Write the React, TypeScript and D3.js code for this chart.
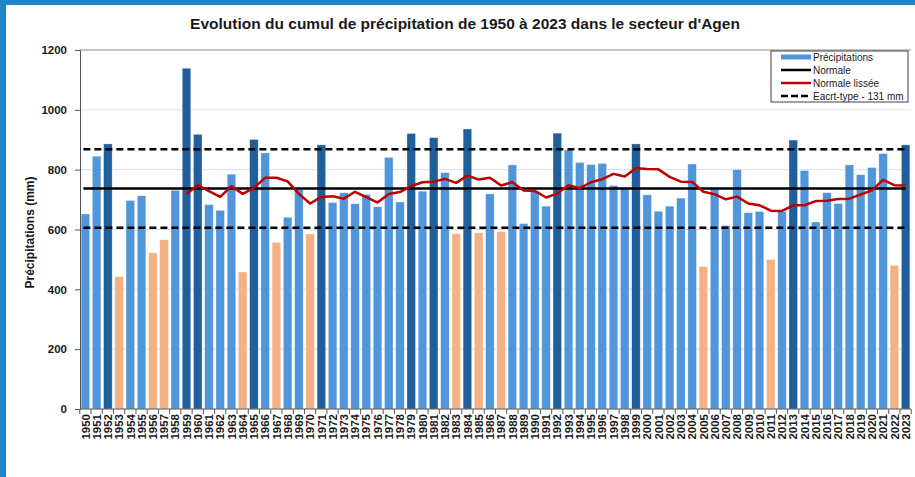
import React, { useRef, useEffect } from 'react';
import * as d3 from 'd3';

const years: number[] = d3.range(1950, 2024);

const precipitations: number[] = [
    652, 845, 886, 443, 697, 713, 522, 566, 731, 1139,
    918, 683, 664, 785, 458, 901, 856, 557, 641, 733,
    585, 883, 690, 723, 686, 717, 676, 841, 692, 921,
    728, 907, 790, 586, 936, 589, 719, 593, 816, 620,
    728, 678, 922, 866, 824, 817, 821, 747, 735, 886,
    716, 661, 678, 705, 819, 476, 736, 613, 800, 656,
    660, 500, 660, 899, 797, 625, 723, 687, 816, 783,
    807, 854, 480, 883
];

// normale lissée, de 1959 à 2023
const smoothStart = 1959;
const smoothed: number[] = [
    719, 748, 728, 709, 745, 719, 739, 773, 773, 761,
    719, 687, 709, 711, 703, 726, 708, 690, 719, 725,
    745, 758, 760, 769, 756, 780, 767, 773, 747, 758,
    730, 729, 707, 720, 748, 738, 758, 768, 786, 777,
    805, 802, 801, 776, 760, 759, 726, 718, 701, 710,
    687, 681, 663, 662, 681, 681, 695, 696, 702, 703,
    717, 731, 766, 748, 747
];

const normale = 737;
const ecartType = 131;
const yTicks: number[] = [0, 200, 400, 600, 800, 1000, 1200];

const legendItems: string[] = ['Précipitations', 'Normale', 'Normale lissée', 'Eacrt-type - 131 mm'];

const WIDTH = 915;
const HEIGHT = 477;
const FONT = "'Liberation Sans', Arial, sans-serif";

function PrecipChart() {
    const ref = useRef(null);

    useEffect(() => {
        if (!ref.current) return;
        const svg: any = d3.select(ref.current);
        svg.selectAll('*').remove();

        const left = 80, right = 911, top = 50, bottom = 409;

        const x = d3.scaleBand<number>()
            .domain(years)
            .range([left, right])
            .paddingInner(0.24)
            .paddingOuter(0.1);

        const y = d3.scaleLinear().domain([0, 1200]).range([bottom, top]);
        const cx = (yr: number) => (x(yr) as number) + x.bandwidth() / 2;

        // cadre bleu
        svg.append('rect').attr('x', 0).attr('y', 0).attr('width', WIDTH).attr('height', HEIGHT).attr('fill', '#fff');
        svg.append('rect').attr('x', 0).attr('y', 0).attr('width', 6).attr('height', HEIGHT).attr('fill', '#1f87c9');
        svg.append('rect').attr('x', 0).attr('y', 0).attr('width', WIDTH).attr('height', 5).attr('fill', '#1f87c9');

        svg.append('text')
            .attr('x', 465).attr('y', 29)
            .attr('text-anchor', 'middle')
            .attr('font-family', FONT)
            .attr('font-weight', 'bold')
            .attr('font-size', 15.5)
            .attr('fill', '#1a1a1a')
            .text("Evolution du cumul de précipitation de 1950 à 2023 dans le secteur d'Agen");

        // grille
        svg.append('g').selectAll('line')
            .data(yTicks.filter(t => t > 0 && t < 1200))
            .join('line')
            .attr('x1', left).attr('x2', right)
            .attr('y1', (d: number) => y(d)).attr('y2', (d: number) => y(d))
            .attr('stroke', '#dcdcec').attr('stroke-width', 1);

        svg.append('line')
            .attr('x1', left).attr('x2', right)
            .attr('y1', top).attr('y2', top)
            .attr('stroke', '#8c8c8c').attr('stroke-width', 1);

        // barres
        const color = (v: number) => v > normale + ecartType ? '#215f9c'
            : v < normale - ecartType ? '#f4b183' : '#5196da';

        svg.append('g').selectAll('rect')
            .data(years.map((yr, i) => ({ yr, v: precipitations[i] })))
            .join('rect')
            .attr('x', (d: any) => x(d.yr))
            .attr('y', (d: any) => y(d.v))
            .attr('width', x.bandwidth())
            .attr('height', (d: any) => bottom - y(d.v))
            .attr('fill', (d: any) => color(d.v))
            .attr('stroke', 'rgba(255,255,255,0.5)')
            .attr('stroke-width', 0.6);

        // normale et écart-type
        const x0 = cx(years[0]) - 2, x1 = cx(years[years.length - 1]);
        const hLine = (v: number, dash: string | null) => {
            svg.append('line')
                .attr('x1', x0).attr('x2', x1)
                .attr('y1', y(v)).attr('y2', y(v))
                .attr('stroke', '#000').attr('stroke-width', 2.5)
                .attr('stroke-dasharray', dash);
        };
        hLine(normale, null);
        hLine(normale + ecartType, '7,4');
        hLine(normale - ecartType, '7,4');

        const line = d3.line<number>()
            .x((d, i) => cx(smoothStart + i))
            .y(d => y(d));

        svg.append('path')
            .datum(smoothed)
            .attr('d', line)
            .attr('fill', 'none')
            .attr('stroke', '#c00000')
            .attr('stroke-width', 2.5)
            .attr('stroke-linejoin', 'round');

        // axe Y
        const yAxis = svg.append('g')
            .attr('transform', `translate(${left},0)`)
            .call(d3.axisLeft(y).tickValues(yTicks).tickFormat(d3.format('d')).tickSize(5).tickPadding(8));
        yAxis.select('.domain').attr('stroke', '#555');
        yAxis.selectAll('.tick line').attr('stroke', '#555');
        yAxis.selectAll('text')
            .attr('font-family', FONT)
            .attr('font-weight', 'bold')
            .attr('font-size', 11.5)
            .attr('fill', '#1a1a1a');

        svg.append('text')
            .attr('transform', `translate(34,${(top + bottom) / 2 + 3}) rotate(-90)`)
            .attr('text-anchor', 'middle')
            .attr('font-family', FONT)
            .attr('font-weight', 'bold')
            .attr('font-size', 12)
            .attr('fill', '#1a1a1a')
            .text('Précipitations (mm)');

        // axe X
        const step = x.step();
        const xAxis = svg.append('g');
        xAxis.append('line')
            .attr('x1', left).attr('x2', right)
            .attr('y1', bottom).attr('y2', bottom)
            .attr('stroke', '#555');
        xAxis.selectAll('line.tk')
            .data(d3.range(years.length + 1))
            .join('line')
            .attr('class', 'tk')
            .attr('x1', (i: number) => (x(years[0]) as number) - (step - x.bandwidth()) / 2 + i * step)
            .attr('x2', (i: number) => (x(years[0]) as number) - (step - x.bandwidth()) / 2 + i * step)
            .attr('y1', bottom).attr('y2', bottom + 5)
            .attr('stroke', '#555');
        xAxis.selectAll('text')
            .data(years)
            .join('text')
            .attr('transform', (d: number) => `translate(${cx(d) + 4.2},${bottom + 5}) rotate(-90)`)
            .attr('text-anchor', 'end')
            .attr('font-family', FONT)
            .attr('font-weight', 'bold')
            .attr('font-size', 11.5)
            .attr('fill', '#1a1a1a')
            .text((d: number) => String(d));

        // légende
        const lg = svg.append('g').attr('transform', 'translate(771,51)');
        lg.append('rect')
            .attr('width', 137).attr('height', 51)
            .attr('fill', '#fff').attr('stroke', '#404040').attr('stroke-width', 1);
        lg.append('rect')
            .attr('x', 10).attr('y', 3.5).attr('width', 30).attr('height', 5)
            .attr('fill', '#5196da');
        const swatches: [string, string | null][] = [['#000', null], ['#c00000', null], ['#000', '7,3']];
        swatches.forEach(([c, dash], i) => {
            lg.append('line')
                .attr('x1', 10).attr('x2', 40)
                .attr('y1', 19 + i * 13).attr('y2', 19 + i * 13)
                .attr('stroke', c).attr('stroke-width', 2.5)
                .attr('stroke-dasharray', dash);
        });
        lg.selectAll('text.lg')
            .data(legendItems)
            .join('text')
            .attr('class', 'lg')
            .attr('x', 42)
            .attr('y', (d: string, i: number) => 6 + i * 13)
            .attr('dy', '0.35em')
            .attr('font-family', FONT)
            .attr('font-size', 10)
            .attr('fill', '#1a1a1a')
            .text((d: string) => d);
    }, []);

    return (
        <svg
            ref={ref}
            width={WIDTH}
            height={HEIGHT}
            style={{ position: 'absolute', left: 0, top: 0, display: 'block' }}
        />
    );
}

export default function App() {
    return <PrecipChart />;
}
